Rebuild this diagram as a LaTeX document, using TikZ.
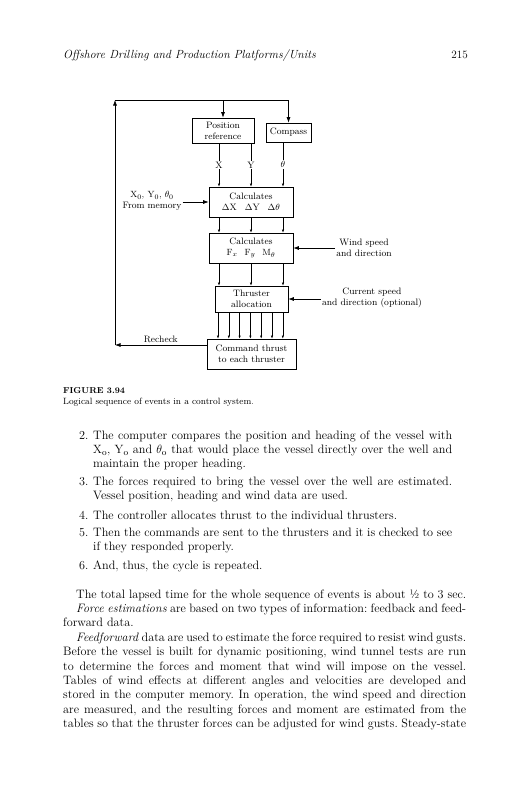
\documentclass[tikz,border=0pt]{standalone}
\usepackage{amsmath,amssymb}
\usepackage{xcolor}
\usepackage{tikz}
\usetikzlibrary{positioning,arrows.meta,calc}

\begin{document}
\begin{tikzpicture}[x=1pt,y=-1pt,font=\fontsize{9.3}{11}\selectfont,>=Latex,
  blk/.style={draw,line width=0.6pt,inner sep=0pt,align=center},
  sig/.style={-{Latex[length=3pt,width=2.2pt]},line width=0.5pt},
  inp/.style={-{Latex[length=5.5pt,width=4pt]},line width=0.7pt},
  lbl/.style={fill=white,inner sep=1pt},
  txt/.style={inner sep=0pt,anchor=base west,align=justify},
  body/.style={font=\fontsize{12.2}{14.4}\selectfont\frenchspacing}]
\useasboundingbox[fill=white] (0,0) rectangle (528,800);
% running head
\node[txt,font=\fontsize{11.8}{13}\selectfont\itshape] (hdr) at (63,59) {Offshore Drilling and Production Platforms/Units};
\node[inner sep=0pt,anchor=base east,font=\fontsize{11.2}{13}\selectfont] (pg) at (468,59) {215};
% blocks
\node[blk,minimum width=62pt,minimum height=25pt] (posref) at (223,130.5) {Position\\reference};
\node[blk,minimum width=45pt,minimum height=19pt] (comp) at (288.5,132.5) {Compass};
\node[blk,minimum width=84pt,minimum height=30pt] (calcD) at (251,202) {Calculates\\$\Delta$X\hspace{8pt}$\Delta$Y\hspace{8pt}$\Delta\theta$};
\node[blk,minimum width=84pt,minimum height=30pt] (calcF) at (251,248) {Calculates\\$\mathrm{F}_x$\hspace{7pt}$\mathrm{F}_y$\hspace{7pt}$\mathrm{M}_\theta$};
\node[blk,minimum width=73pt,minimum height=26pt] (thr) at (251.5,299) {Thruster\\allocation};
\node[blk,minimum width=89pt,minimum height=30pt] (cmd) at (251.5,354) {Command thrust\\to each thruster};
% inputs
\node[align=center,inner sep=1pt] (mem) at (152,201) {$\mathrm{X_0}$, $\mathrm{Y_0}$, $\theta_0$\\From memory};
\node[align=center,inner sep=1pt] (wind) at (364,248) {Wind speed\\and direction};
\node[align=center,inner sep=1pt] (cur) at (372,298) {Current speed\\and direction (optional)};
% columns
\coordinate (c1) at (219,0); \coordinate (c2) at (251,0); \coordinate (c3) at (283,0);
\coordinate (rc) at (115,345); \coordinate (tl) at (115,100);
\draw[sig] (posref.south -| c1) -- node[lbl]{X} (calcD.north -| c1);
\draw[sig] (posref.south -| c2) -- node[lbl]{Y} (calcD.north -| c2);
\draw[sig] (comp.south -| c3) -- node[lbl]{$\theta$} (calcD.north -| c3);
\foreach \c in {c1,c2,c3} {
  \draw[sig] (calcD.south -| \c) -- (calcF.north -| \c);
  \draw[sig] (calcF.south -| \c) -- (thr.north -| \c);
}
\foreach \i in {0,...,6}
  \draw[sig] ($(thr.south)+(-33.5+\i*10.8,0)$) -- ($(cmd.north)+(-33.5+\i*10.8,0)$);
\draw[inp] (calcD.west -| mem.east) -- (calcD.west);
\draw[inp] (calcF.east -| wind.west) -- (calcF.east);
\draw[inp] (thr.east -| cur.west) -- (thr.east);
% recheck loop
\draw[inp] (cmd.west |- rc) -- node[above,inner sep=2pt]{Recheck} (rc);
\draw[inp] (rc) -- (tl);
\draw[line width=0.7pt] (tl) -- (tl -| comp.north);
\draw[inp] (tl -| posref.north) -- (posref.north);
\draw[inp] (tl -| comp.north) -- (comp.north);
% caption
\node[inner sep=0pt,anchor=base west,font=\fontsize{8.6}{10}\selectfont\bfseries] (fig) at (63,393) {FIGURE 3.94};
\node[inner sep=0pt,anchor=base west,font=\fontsize{9.1}{10}\selectfont] (cap) at (63,404) {Logical sequence of events in a control system.};
% numbered list
\node[txt,body] (n2) at (79,439) {2.};
\node[txt,body,text width=359pt] (i2) at (93,439) {The computer compares the position and heading of the vessel with\linebreak $\mathrm{X_o}$, $\mathrm{Y_o}$ and $\theta_\mathrm{o}$ that would place the vessel directly over the well and\linebreak maintain the proper heading.};
\node[txt,body] (n3) at (79,485) {3.};
\node[txt,body,text width=359pt] (i3) at (93,485) {The forces required to bring the vessel over the well are estimated.\linebreak Vessel position, heading and wind data are used.};
\node[txt,body] (n4) at (79,519) {4.};
\node[txt,body,text width=359pt] (i4) at (93,519) {The controller allocates thrust to the individual thrusters.};
\node[txt,body] (n5) at (79,536) {5.};
\node[txt,body,text width=359pt] (i5) at (93,536) {Then the commands are sent to the thrusters and it is checked to see\linebreak if they responded properly.};
\node[txt,body] (n6) at (79,569) {6.};
\node[txt,body,text width=359pt] (i6) at (93,569) {And, thus, the cycle is repeated.};
% running text
\node[txt,body,text width=403pt] (par) at (63,598) {%
\hspace*{13pt}The total lapsed time for the whole sequence of events is about ½ to 3 sec.\par
\hspace*{13pt}\textit{Force estimations} are based on two types of information: feedback and feed-\linebreak forward data.\par
\hspace*{13pt}\textit{Feedforward} data are used to estimate the force required to resist wind gusts.\linebreak Before the vessel is built for dynamic positioning, wind tunnel tests are run\linebreak to determine the forces and moment that wind will impose on the vessel.\linebreak Tables of wind effects at different angles and velocities are developed and\linebreak stored in the computer memory. In operation, the wind speed and direction\linebreak are measured, and the resulting forces and moment are estimated from the\linebreak tables so that the thruster forces can be adjusted for wind gusts. Steady-state\parfillskip=0pt\par};
\end{tikzpicture}
\end{document}
